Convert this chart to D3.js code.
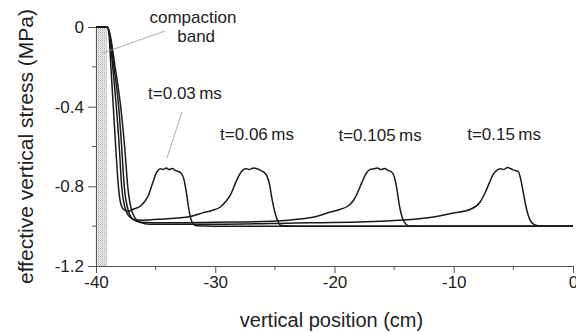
<!DOCTYPE html>
<html>
<head>
<meta charset="utf-8">
<script src="https://cdn.jsdelivr.net/npm/d3@7"></script>
<style>
  html, body { margin: 0; padding: 0; background: #fff; }
  svg { display: block; font-family: "Liberation Sans", Arial, sans-serif; }
</style>
</head>
<body>
<div id="chart"></div>
<script>
// effective vertical stress profiles, [position (cm), stress (MPa)]
const t003 = [[-40,0],[-39.05,0],[-38.92,-0.03],[-38.75,-0.2],[-38.55,-0.4],[-38.35,-0.6],[-38.15,-0.78],[-37.95,-0.88],[-37.7,-0.915],[-37.3,-0.925],[-36.9,-0.915],[-36.3,-0.9],[-35.9,-0.875],[-35.6,-0.845],[-35.4,-0.81],[-35.2,-0.775],[-35.0,-0.74],[-34.8,-0.72],[-34.6,-0.712],[-34.35,-0.715],[-34.1,-0.708],[-33.85,-0.716],[-33.6,-0.71],[-33.35,-0.72],[-33.1,-0.725],[-32.85,-0.735],[-32.65,-0.76],[-32.45,-0.82],[-32.28,-0.89],[-32.12,-0.945],[-31.9,-0.985],[-31.6,-0.998],[-30,-1.0],[0,-1.0]];
const t006 = [[-40,0],[-39.05,0],[-38.9,-0.03],[-38.6,-0.2],[-38.3,-0.4],[-38.05,-0.6],[-37.85,-0.8],[-37.6,-0.9],[-37.3,-0.945],[-36.9,-0.965],[-36.3,-0.97],[-34.5,-0.965],[-32.1,-0.952],[-31.0,-0.932],[-30.2,-0.92],[-29.6,-0.905],[-29.1,-0.875],[-28.7,-0.84],[-28.35,-0.79],[-28.0,-0.745],[-27.7,-0.718],[-27.4,-0.712],[-27.1,-0.715],[-26.8,-0.708],[-26.5,-0.712],[-26.2,-0.72],[-25.9,-0.73],[-25.65,-0.75],[-25.45,-0.79],[-25.25,-0.86],[-25.0,-0.93],[-24.75,-0.975],[-24.45,-0.997],[-23,-1.0],[0,-1.0]];
const t0105 = [[-40,0],[-39.05,0],[-38.88,-0.03],[-38.5,-0.2],[-38.1,-0.4],[-37.85,-0.6],[-37.63,-0.8],[-37.3,-0.92],[-36.9,-0.965],[-36.3,-0.98],[-34,-0.983],[-30,-0.98],[-26,-0.977],[-24.5,-0.973],[-22.5,-0.962],[-21.8,-0.955],[-20.4,-0.93],[-19.5,-0.915],[-18.9,-0.9],[-18.4,-0.87],[-18.05,-0.83],[-17.7,-0.78],[-17.35,-0.735],[-17.0,-0.715],[-16.7,-0.712],[-16.4,-0.708],[-16.1,-0.716],[-15.8,-0.71],[-15.5,-0.72],[-15.2,-0.728],[-14.95,-0.76],[-14.75,-0.82],[-14.55,-0.9],[-14.3,-0.96],[-14.0,-0.99],[-13.7,-0.999],[-12,-1.0],[0,-1.0]];
const t015 = [[-40,0],[-39.05,0],[-38.85,-0.03],[-38.4,-0.2],[-37.93,-0.4],[-37.6,-0.6],[-37.34,-0.8],[-36.9,-0.94],[-36.3,-0.98],[-35.5,-0.99],[-30,-0.99],[-24,-0.985],[-16.2,-0.975],[-12.0,-0.957],[-10.1,-0.935],[-8.6,-0.915],[-7.8,-0.88],[-7.35,-0.83],[-7.0,-0.78],[-6.7,-0.74],[-6.4,-0.72],[-6.1,-0.712],[-5.8,-0.715],[-5.5,-0.706],[-5.2,-0.712],[-4.9,-0.72],[-4.6,-0.725],[-4.4,-0.76],[-4.2,-0.82],[-3.95,-0.9],[-3.7,-0.955],[-3.3,-0.99],[-2.8,-0.999],[-1,-1.0],[0,-1.0]];

const curves = [t003, t006, t0105, t015];
const curveLabels = ["t=0.03\u2009ms", "t=0.06\u2009ms", "t=0.105\u2009ms", "t=0.15\u2009ms"];

const xTicks = [-40, -30, -20, -10, 0];
const xTickLabels = ["-40", "-30", "-20", "-10", "0"];
const xMinor = [-35, -25, -15, -5];
const yTicks = [0, -0.4, -0.8, -1.2];
const yTickLabels = ["0", "-0.4", "-0.8", "-1.2"];
const yMinor = [-0.2, -0.6, -1.0];

const bandRange = [-40, -39.1]; // compaction band, cm

const width = 576, height = 332;
const margin = {top: 27, right: 3, bottom: 66, left: 96};

const svg = d3.select("#chart").append("svg")
    .attr("width", width)
    .attr("height", height);

const x = d3.scaleLinear().domain([-40, 0]).range([margin.left, width - margin.right]);
const y = d3.scaleLinear().domain([-1.2, 0]).range([height - margin.bottom, margin.top]);

// stipple pattern for the band
const defs = svg.append("defs");
const pat = defs.append("pattern").attr("id", "dots")
    .attr("width", 2).attr("height", 2).attr("patternUnits", "userSpaceOnUse");
pat.append("rect").attr("width", 2).attr("height", 2).attr("fill", "#f4f4f4");
pat.append("rect").attr("width", 1).attr("height", 1).attr("fill", "#a8a8a8");
pat.append("rect").attr("x", 1).attr("y", 1).attr("width", 1).attr("height", 1).attr("fill", "#d2d2d2");

svg.append("rect")
    .attr("x", x(bandRange[0]))
    .attr("y", y(0))
    .attr("width", x(bandRange[1]) - x(bandRange[0]))
    .attr("height", y(-1.2) - y(0))
    .attr("fill", "url(#dots)")
    .attr("stroke", "#c4c4c4").attr("stroke-width", 0.5);

// axes
const axisColor = "#555";
const yAxis = svg.append("g").attr("transform", `translate(${margin.left},0)`)
    .call(d3.axisLeft(y).tickValues(yTicks).tickFormat((d, i) => yTickLabels[i])
        .tickSize(8).tickSizeOuter(0).tickPadding(4));
yAxis.selectAll(".tick text").style("font-size", "17px").attr("fill", "#222");
yAxis.selectAll("line, path").attr("stroke", axisColor);

svg.append("g").selectAll("line").data(yMinor).join("line")
    .attr("x1", margin.left - 4).attr("x2", margin.left)
    .attr("y1", d => y(d)).attr("y2", d => y(d))
    .attr("stroke", axisColor);

const xAxis = svg.append("g").attr("transform", `translate(0,${y(-1.2)})`)
    .call(d3.axisBottom(x).tickValues(xTicks).tickFormat((d, i) => xTickLabels[i])
        .tickSize(7).tickSizeOuter(0).tickPadding(3));
xAxis.selectAll(".tick text").style("font-size", "17px").attr("fill", "#222");
xAxis.selectAll("line, path").attr("stroke", axisColor);

svg.append("g").selectAll("line").data(xMinor).join("line")
    .attr("x1", d => x(d)).attr("x2", d => x(d))
    .attr("y1", y(-1.2)).attr("y2", y(-1.2) + 4)
    .attr("stroke", axisColor);

// curves
const line = d3.line().x(d => x(d[0])).y(d => y(d[1])).curve(d3.curveMonotoneX);
svg.append("g").selectAll("path").data(curves).join("path")
    .attr("d", line)
    .attr("fill", "none")
    .attr("stroke", "#1a1a1a")
    .attr("stroke-width", 1.5)
    .attr("stroke-linejoin", "round");

// annotations
const labelPos = [[-32.54, -0.361], [-26.5, -0.567], [-16.18, -0.572], [-5.78, -0.567]];
svg.append("g").selectAll("text").data(curveLabels).join("text")
    .attr("x", (d, i) => x(labelPos[i][0]))
    .attr("y", (d, i) => y(labelPos[i][1]))
    .attr("text-anchor", "middle")
    .style("font-size", "17px").attr("fill", "#222")
    .text(d => d);

svg.append("text").attr("x", x(-31.87)).attr("y", y(0.02))
    .attr("text-anchor", "middle").style("font-size", "17px").attr("fill", "#222")
    .text("compaction");
svg.append("text").attr("x", x(-31.6)).attr("y", y(-0.075))
    .attr("text-anchor", "middle").style("font-size", "17px").attr("fill", "#222")
    .text("band");

svg.append("line")
    .attr("x1", x(-39.41)).attr("y1", y(-0.13))
    .attr("x2", x(-34.21)).attr("y2", y(-0.02))
    .attr("stroke", "#999").attr("stroke-width", 0.8);
svg.append("line")
    .attr("x1", x(-32.79)).attr("y1", y(-0.427))
    .attr("x2", x(-34.05)).attr("y2", y(-0.658))
    .attr("stroke", "#999").attr("stroke-width", 0.8);

// axis titles
svg.append("text")
    .attr("transform", `translate(33,${(y(0) + y(-1.2)) / 2}) rotate(-90)`)
    .attr("text-anchor", "middle")
    .style("font-size", "21px").attr("fill", "#222")
    .text("effective vertical stress (MPa)");

svg.append("text")
    .attr("x", (x(-40) + x(0)) / 2 - 3)
    .attr("y", 327)
    .attr("text-anchor", "middle")
    .style("font-size", "20px").attr("fill", "#222")
    .text("vertical position (cm)");
</script>
</body>
</html>
